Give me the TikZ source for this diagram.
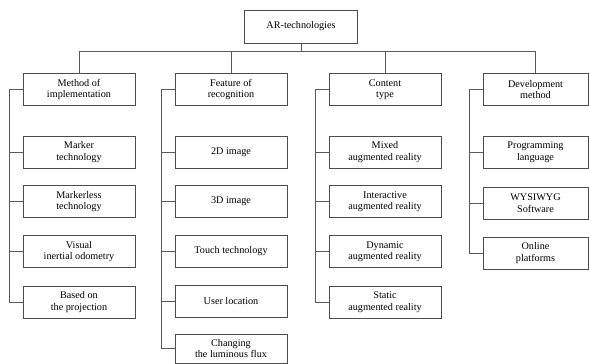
\documentclass[tikz,border=0pt]{standalone}
\usepackage{fontspec}
\setmainfont{Liberation Serif}
\usepackage{tikz}

\begin{document}
\begin{tikzpicture}[x=1pt,y=-1pt]
        \useasboundingbox (0,0) rectangle (589,364);
        \tikzstyle{every node} = [rectangle, draw=black!70, line width=0.8pt, align=center,
            minimum width=112pt, minimum height=32pt, inner sep=1pt,
            font=\fontsize{10.2}{11.5}\selectfont]
        \tikzstyle{link} = [draw=black!65, line width=0.8pt]
        % root
        \node (ar) at (301,26.5) [minimum width=113pt, minimum height=33pt] {AR-technologies};
        % headers
        \node (h1) at (79,89.5) {Method of\\implementation};
        \node (h2) at (231,89.5) {Feature of\\recognition};
        \node (h3) at (385,89.5) {Content\\type};
        \node (h4) at (535.5,89.5) [minimum width=105pt] {Development\\method};
        % method of implementation
        \node (m1) at (79,152) {Marker\\technology};
        \node (m2) at (79,201.5) {Markerless\\technology};
        \node (m3) at (79,251.5) {Visual\\inertial odometry};
        \node (m4) at (79,302) {Based on\\the projection};
        % feature of recognition
        \node (f1) at (231,152) {2D image};
        \node (f2) at (231,201.5) {3D image};
        \node (f3) at (231,251.5) {Touch technology};
        \node (f4) at (231,301) {User location};
        \node (f5) at (231,348.5) [minimum height=29pt] {Changing\\the luminous flux};
        % content type
        \node (c1) at (385,152) {Mixed\\augmented reality};
        \node (c2) at (385,201.5) {Interactive\\augmented reality};
        \node (c3) at (385,251.5) {Dynamic\\augmented reality};
        \node (c4) at (385,302) {Static\\augmented reality};
        % development method
        \node (d1) at (535.5,152) [minimum width=105pt] {Programming\\language};
        \node (d2) at (535.5,203) [minimum width=105pt] {WYSIWYG\\Software};
        \node (d3) at (535.5,253) [minimum width=105pt] {Online\\platforms};
        \foreach \to in {h1, h2, h3, h4}
            \draw[link] (ar.south) -- ++(0,8) -| (\to.north);
        \foreach \from/\to in {h1/m1, h1/m2, h1/m3, h1/m4, h2/f1, h2/f2, h2/f3, h2/f4, h2/f5,
                h3/c1, h3/c2, h3/c3, h3/c4, h4/d1, h4/d2, h4/d3}
            \draw[link] (\from.west) -- ++(-13.5,0) |- (\to.west);
    \end{tikzpicture}
\end{document}
